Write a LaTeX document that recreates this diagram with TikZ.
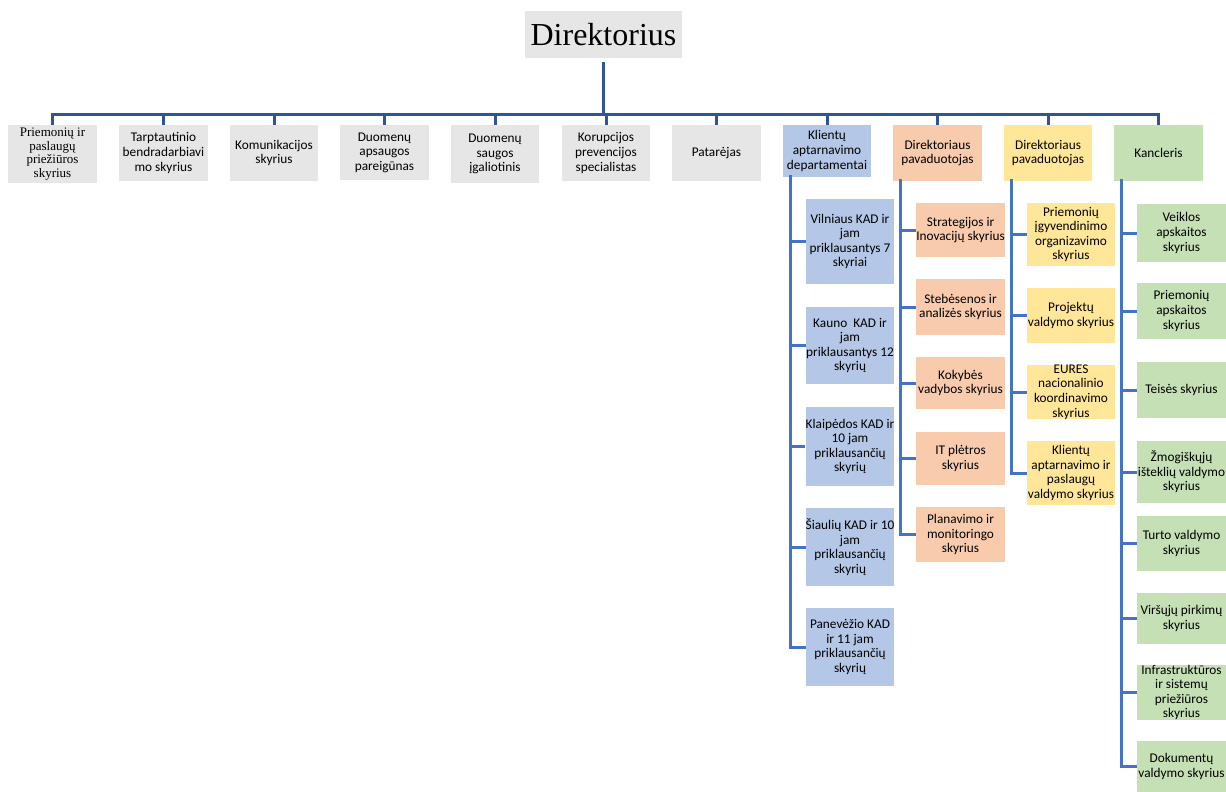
\documentclass[tikz,border=0pt]{standalone}
\usepackage{fontspec}
\setmainfont{Liberation Serif}
\setsansfont{Carlito}
\usetikzlibrary{calc}
\definecolor{boxgray}{HTML}{E6E6E6}
\definecolor{boxblue}{HTML}{B4C7E7}
\definecolor{boxorange}{HTML}{F8CBAD}
\definecolor{boxyellow}{HTML}{FFE699}
\definecolor{boxgreen}{HTML}{C5E0B4}
\definecolor{busblue}{HTML}{2F5597}
\definecolor{colblue}{HTML}{4472C4}
% unit box from its corners: name, style, x1, y1, x2, y2, text
\newcommand{\orgbox}[7]{%
  \pgfmathsetmacro{\obw}{#5-#3}\pgfmathsetmacro{\obh}{#6-#4}%
  \node[#2, minimum width=\obw pt, minimum height=\obh pt] (#1) at ({(#3+#5)/2},{(#4+#6)/2}) {#7};}
\begin{document}
\begin{tikzpicture}[x=1pt,y=-1pt,
  unit/.style={inner sep=0pt, align=center, text=black,
    font=\sffamily\fontsize{13.3}{14.6}\selectfont},
  gray/.style={unit, fill=boxgray},
  blue/.style={unit, fill=boxblue},
  orange/.style={unit, fill=boxorange},
  yellow/.style={unit, fill=boxyellow},
  green/.style={unit, fill=boxgreen},
  bus/.style={draw=busblue, line width=3pt},
  col/.style={draw=colblue, line width=3pt}]
\useasboundingbox (0,0) rectangle (1226,792);

% head of the organisation
\orgbox{dir}{gray, font=\rmfamily\fontsize{32}{36}\selectfont}{525}{11}{682}{58}{Direktorius}

% first level
\orgbox{t1}{gray, font=\rmfamily\fontsize{13}{13.8}\selectfont}{8}{125}{97}{183}{Priemonių ir\\paslaugų\\priežiūros\\skyrius}
\orgbox{t2}{gray}{119}{125}{208}{181}{Tarptautinio\\bendradarbiavi\\mo skyrius}
\orgbox{t3}{gray}{230}{125}{318}{181}{Komunikacijos\\skyrius}
\orgbox{t4}{gray}{340}{125}{429}{180}{Duomenų\\apsaugos\\pareigūnas}
\orgbox{t5}{gray}{451}{125}{539}{183}{Duomenų\\saugos\\įgaliotinis}
\orgbox{t6}{gray}{562}{125}{650}{181}{Korupcijos\\prevencijos\\specialistas}
\orgbox{t7}{gray}{672}{125}{761}{181}{Patarėjas}
\orgbox{t8}{blue}{783}{125}{871}{177}{Klientų\\aptarnavimo\\departamentai}
\orgbox{t9}{orange}{893}{125}{982}{181}{Direktoriaus\\pavaduotojas}
\orgbox{t10}{yellow}{1004}{125}{1092}{181}{Direktoriaus\\pavaduotojas}
\orgbox{t11}{green}{1114}{125}{1203}{181}{Kancleris}

% customer service departments
\orgbox{b1}{blue}{806}{199}{894}{284}{Vilniaus KAD ir\\jam\\priklausantys 7\\skyriai}
\orgbox{b2}{blue}{806}{307}{894}{384}{Kauno\ \ KAD ir\\jam\\priklausantys 12\\skyrių}
\orgbox{b3}{blue}{806}{407}{894}{486}{Klaipėdos KAD ir\\10 jam\\priklausančių\\skyrių}
\orgbox{b4}{blue}{806}{508}{894}{586}{Šiaulių KAD ir 10\\jam\\priklausančių\\skyrių}
\orgbox{b5}{blue}{806}{608}{894}{686}{Panevėžio KAD\\ir 11 jam\\priklausančių\\skyrių}

% first deputy
\orgbox{o1}{orange}{916}{203}{1005}{257}{Strategijos ir\\Inovacijų skyrius}
\orgbox{o2}{orange}{916}{279}{1005}{335}{Stebėsenos ir\\analizės skyrius}
\orgbox{o3}{orange}{916}{357}{1005}{409}{Kokybės\\vadybos skyrius}
\orgbox{o4}{orange}{916}{432}{1005}{485}{IT plėtros\\skyrius}
\orgbox{o5}{orange}{916}{507}{1005}{562}{Planavimo ir\\monitoringo\\skyrius}

% second deputy
\orgbox{y1}{yellow}{1027}{203}{1115}{266}{Priemonių\\įgyvendinimo\\organizavimo\\skyrius}
\orgbox{y2}{yellow}{1027}{288}{1115}{343}{Projektų\\valdymo skyrius}
\orgbox{y3}{yellow}{1027}{365}{1115}{419}{EURES\\nacionalinio\\koordinavimo\\skyrius}
\orgbox{y4}{yellow}{1027}{441}{1115}{505}{Klientų\\aptarnavimo ir\\paslaugų\\valdymo skyrius}

% chancellor
\orgbox{g1}{green}{1137}{204}{1226}{262}{Veiklos\\apskaitos\\skyrius}
\orgbox{g2}{green}{1137}{283}{1226}{339}{Priemonių\\apskaitos\\skyrius}
\orgbox{g3}{green}{1137}{362}{1226}{418}{Teisės skyrius}
\orgbox{g4}{green}{1137}{441}{1226}{503}{Žmogiškųjų\\išteklių valdymo\\skyrius}
\orgbox{g5}{green}{1137}{516}{1226}{571}{Turto valdymo\\skyrius}
\orgbox{g6}{green}{1137}{593}{1226}{644}{Viršųjų pirkimų\\skyrius}
\orgbox{g7}{green}{1137}{667}{1226}{718}{Infrastruktūros\\ir sistemų\\priežiūros\\skyrius}
\orgbox{g8}{green}{1137}{741}{1226}{792}{Dokumentų\\valdymo skyrius}

% main bus
\path (dir.south) ++(0,56) coordinate (bj);
\draw[bus, shorten <=4pt] (dir.south) -- (bj);
\draw[bus] (t1.north) -- (t1.north |- bj) -- (t11.north |- bj) -- (t11.north);
\foreach \i in {2,...,10} \draw[bus] (t\i.north |- bj) -- (t\i.north);

% column spines
\coordinate (cB) at ([xshift=8pt,yshift=2pt]t8.south west);
\coordinate (cO) at ([xshift=8pt,yshift=2pt]t9.south west);
\coordinate (cY) at ([xshift=8pt,yshift=2pt]t10.south west);
\coordinate (cG) at ([xshift=8pt,yshift=2pt]t11.south west);

\draw[col] (cB) |- (b5.west);
\foreach \n in {b1,b2,b3,b4} \draw[col] (cB |- \n.west) -- (\n.west);
\draw[col] (cO) |- (o5.west);
\foreach \n in {o1,o2,o3,o4} \draw[col] (cO |- \n.west) -- (\n.west);
\draw[col] (cY) |- (y4.west);
\foreach \n in {y1,y2,y3} \draw[col] (cY |- \n.west) -- (\n.west);
\draw[col] (cG) |- (g8.west);
\foreach \n in {g1,g2,g3,g4,g5,g6,g7} \draw[col] (cG |- \n.west) -- (\n.west);
\end{tikzpicture}
\end{document}
